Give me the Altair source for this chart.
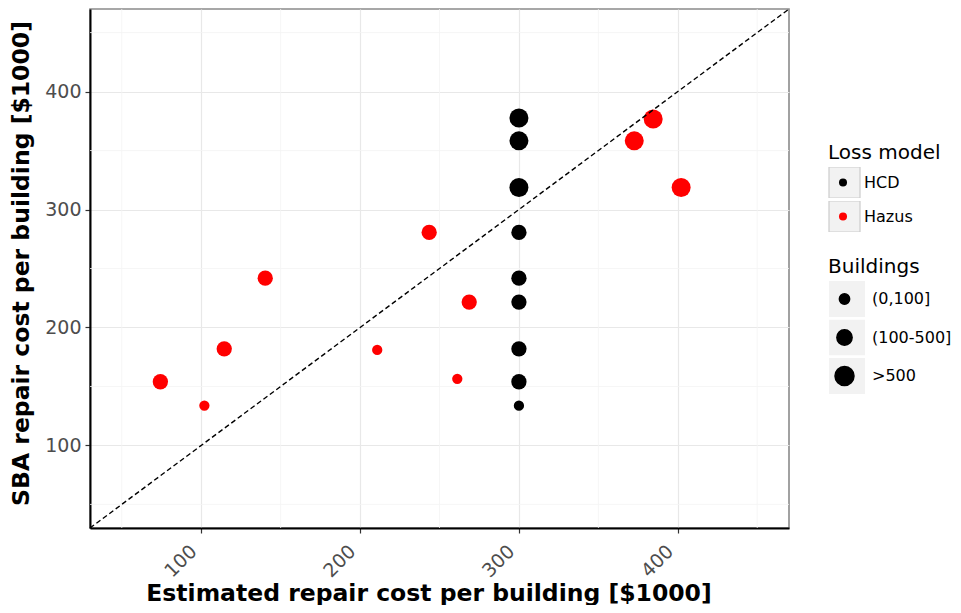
import altair as alt
import pandas as pd

# ---- data ----
hcd_x = [300, 300, 300, 300, 300, 300, 300, 300, 300]
hcd_y = [377.6, 358.2, 318.6, 280.6, 241.8, 221.5, 181.9, 154.0, 133.7]
hcd_bld = [">500", ">500", ">500", "(100-500]", "(100-500]", "(100-500]",
           "(100-500]", "(100-500]", "(0,100]"]

hazus_x = [74.3, 102.0, 114.5, 140.3, 210.8, 243.5, 268.7, 261.2, 372.6, 384.5, 402.1]
hazus_y = [154.0, 133.8, 181.9, 241.8, 181.0, 280.6, 221.5, 156.5, 358.2, 376.8, 318.6]
hazus_bld = ["(100-500]", "(0,100]", "(100-500]", "(100-500]", "(0,100]", "(100-500]",
             "(100-500]", "(0,100]", ">500", ">500", ">500"]

models = ["HCD", "Hazus"]
model_colors = ["black", "red"]
bld_levels = ["(0,100]", "(100-500]", ">500"]
bld_sizes = [106, 361, 590]

major_ticks = [100, 200, 300, 400]
minor_ticks = [50, 150, 250, 350, 450]
diag = [30, 470]
domain = [30, 470]

df = pd.DataFrame({
    "x": hcd_x + hazus_x,
    "y": hcd_y + hazus_y,
    "model": ["HCD"] * len(hcd_x) + ["Hazus"] * len(hazus_x),
    "bld": hcd_bld + hazus_bld,
})

FONT = "DejaVu Sans"
xs = alt.Scale(domain=domain, nice=False, zero=False)
ys = alt.Scale(domain=domain, nice=False, zero=False)

LX = 738
LY1 = 134
LY2 = 248
TFS = 20      # legend title font size
LFS = 16      # legend label font size
BOX1 = 31     # key box side, colour legend
BOX2 = 36     # key box side, size legend

minor_df = pd.DataFrame({"v": minor_ticks})
minor_x = alt.Chart(minor_df).mark_rule(color="#f4f4f4", strokeWidth=0.8).encode(
    x=alt.X("v:Q", scale=xs))
minor_y = alt.Chart(minor_df).mark_rule(color="#f4f4f4", strokeWidth=0.8).encode(
    y=alt.Y("v:Q", scale=ys))

diag_df = pd.DataFrame({"x": diag, "y": diag})
diag_line = alt.Chart(diag_df).mark_line(color="black", strokeDash=[5, 3], strokeWidth=1.4).encode(
    x=alt.X("x:Q", scale=xs), y=alt.Y("y:Q", scale=ys))

common_box = dict(titleColor="transparent", labelExpr="''", symbolType="square",
                  symbolStrokeColor="#cccccc", symbolStrokeWidth=1.2, symbolOpacity=1,
                  orient="none", legendX=LX, titleFontSize=TFS, labelFontSize=LFS,
                  titlePadding=4)

# legend key boxes (empty layers, they only produce the grey key backgrounds)
box_color = alt.Chart(df).transform_filter("datum.x < 0").mark_point(
    filled=True, shape="square", opacity=1).encode(
    x=alt.X("x:Q", scale=xs), y=alt.Y("y:Q", scale=ys),
    color=alt.Color("model:N", scale=alt.Scale(domain=models, range=["#f2f2f2", "#f2f2f2"]),
                    legend=alt.Legend(title="Loss model", symbolSize=BOX1 * BOX1,
                                      legendY=LY1, rowPadding=3, clipHeight=BOX1,
                                      **common_box)))
box_size = alt.Chart(df).transform_filter("datum.x < 0").mark_point(
    filled=True, shape="square", color="#f2f2f2", opacity=1).encode(
    x=alt.X("x:Q", scale=xs), y=alt.Y("y:Q", scale=ys),
    size=alt.Size("bld:N", scale=alt.Scale(domain=bld_levels, range=[BOX2 * BOX2] * 3),
                  legend=alt.Legend(title="Buildings", symbolFillColor="#f2f2f2",
                                    legendY=LY2, rowPadding=2.5, clipHeight=BOX2,
                                    **common_box)))

points = alt.Chart(df).mark_circle(opacity=1).encode(
    x=alt.X("x:Q", scale=xs, title="Estimated repair cost per building [$1000]",
            axis=alt.Axis(values=major_ticks, labelAngle=-45, labelAlign="right",
                          labelBaseline="middle", labelPadding=15, labelOffset=-8,
                          titleX=338.5, titleY=72, titleBaseline="alphabetic")),
    y=alt.Y("y:Q", scale=ys, title="SBA repair cost per building [$1000]",
            axis=alt.Axis(values=major_ticks, labelPadding=4,
                          titleX=-68.5, titleY=254, titleBaseline="middle")),
    color=alt.Color("model:N", scale=alt.Scale(domain=models, range=model_colors),
                    legend=alt.Legend(title="Loss model", symbolType="circle", symbolSize=64,
                                      orient="none", legendX=LX, legendY=LY1,
                                      rowPadding=3, clipHeight=BOX1, symbolOffset=7,
                                      labelOffset=13, titleFontSize=TFS, labelFontSize=LFS,
                                      titlePadding=4)),
    size=alt.Size("bld:N", scale=alt.Scale(domain=bld_levels, range=bld_sizes),
                  legend=alt.Legend(title="Buildings", symbolType="circle",
                                    symbolFillColor="black", symbolStrokeColor="black",
                                    orient="none", legendX=LX, legendY=LY2,
                                    rowPadding=2.5, clipHeight=BOX2, symbolOffset=6,
                                    labelOffset=17, titleFontSize=TFS, labelFontSize=LFS,
                                    titlePadding=4)),
    order=alt.Order("bld:N"),
)

chart = alt.layer(box_color, box_size, minor_x, minor_y, points, diag_line).resolve_scale(
    color="independent", size="independent").resolve_legend(
    color="independent", size="independent").properties(
    width=699, height=519,
    autosize=alt.AutoSizeParams(type="none"),
    padding={"left": 82, "top": 1, "right": 164, "bottom": 77},
).configure_view(stroke="#8a8a8a", strokeWidth=1.6).configure_axis(
    labelFont=FONT, titleFont=FONT, labelFontSize=19, labelColor="#4d4d4d",
    titleFontSize=23.5, titleFontWeight="bold", titleColor="black",
    gridColor="#e8e8e8", gridWidth=1.2, domainColor="black", domainWidth=2,
    tickColor="#333333", tickSize=5, tickWidth=1.2,
).configure_legend(
    labelFont=FONT, titleFont=FONT, titleFontWeight="normal", labelColor="black",
    titleColor="black",
)

chart.save("out.html", embed_options={"renderer": "svg", "actions": False})
